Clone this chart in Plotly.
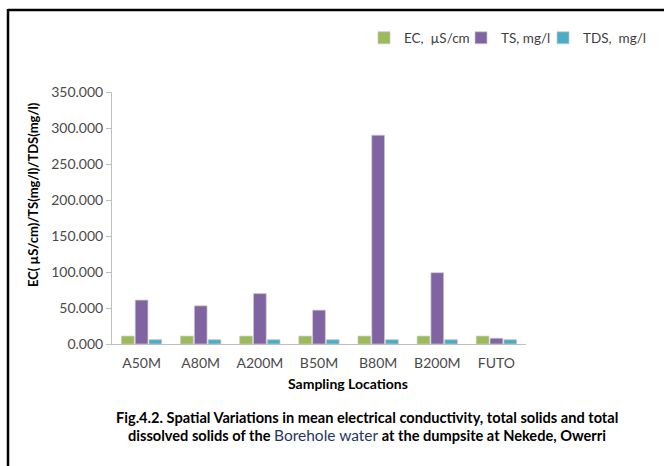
import plotly.graph_objects as go

locations = ["A50M", "A80M", "A200M", "B50M", "B80M", "B200M", "FUTO"]
ec_values = [11.0, 11.0, 11.0, 11.0, 11.0, 11.0, 11.0]
ts_values = [61.0, 53.0, 70.0, 47.0, 290.0, 99.0, 8.0]
tds_values = [6.0, 6.0, 6.0, 6.0, 6.0, 6.0, 6.0]
series_names = ["EC,  µS/cm", "TS, mg/l", "TDS,  mg/l"]
colors = ["#9BBB59", "#8064A2", "#4BACC6"]

W, H = 664, 466
ML, MR, MT, MB = 112, 138, 92, 122
PW, PH = W - ML - MR, H - MT - MB

def px(x):
    return (x - ML) / PW

def py(y):
    return (H - MB - y) / PH

FONT = "Lato, Open Sans, sans-serif"
legend_ids = ["legend", "legend2", "legend3"]
legend_x = [364, 461, 543]

fig = go.Figure()
for name, vals, col, lid in zip(series_names, [ec_values, ts_values, tds_values], colors, legend_ids):
    fig.add_trace(go.Bar(
        x=locations, y=vals, name=name, legend=lid,
        marker=dict(color=col, line=dict(color="rgba(200,200,200,0.7)", width=1)),
    ))

fig.update_layout(
    width=W, height=H,
    margin=dict(l=ML, r=MR, t=MT, b=MB, autoexpand=False),
    paper_bgcolor="white", plot_bgcolor="white",
    barmode="group", bargap=0.3, bargroupgap=0.08,
    font=dict(family=FONT, size=13, color="#404040"),
    showlegend=True,
    xaxis=dict(showline=True, linecolor="#BFBFBF", linewidth=1, ticks="outside",
               ticklen=6, tickcolor="rgba(0,0,0,0)",
               tickfont=dict(size=14, color="#4a4a4a"), showgrid=False),
    yaxis=dict(range=[0, 350], dtick=50, tickformat=".3f", showline=True,
               linecolor="#BFBFBF", linewidth=1, ticks="outside", ticklen=5,
               tickcolor="#BFBFBF", showgrid=False, zeroline=False,
               tickfont=dict(size=14, color="#4a4a4a")),
)
for lid, lx in zip(legend_ids, legend_x):
    fig.update_layout({lid: dict(orientation="h", x=px(lx), y=py(38), xanchor="left",
                                 yanchor="middle", font=dict(size=13.5, color="#404040"),
                                 itemwidth=30, bgcolor="rgba(0,0,0,0)")})

def note(text, x, y, size, angle=0):
    fig.add_annotation(text=text, textangle=angle, xref="paper", yref="paper",
                       x=px(x), y=py(y), xanchor="center", yanchor="middle",
                       showarrow=False, font=dict(size=size, color="#000000"))

note("<b>EC( µS/cm)/TS(mg/l)/TDS(mg/l)</b>", 33, 195, 13, angle=-90)
note("<b>Sampling Locations</b>", 348, 383, 14)
note("<b>Fig.4.2. Spatial Variations in mean electrical conductivity, total solids and total</b>",
     367, 417, 14.6)
note("<b>dissolved solids of the </b><span style='color:#1F3864;font-size:15.5px'>Borehole water</span>"
     "<b> at the dumpsite at Nekede, Owerri</b>", 367, 435, 14.6)

# frame lines
fig.add_shape(type="line", xref="paper", yref="paper", x0=px(8), x1=px(664), y0=py(10), y1=py(10),
              line=dict(color="black", width=2.5))
fig.add_shape(type="line", xref="paper", yref="paper", x0=px(8), x1=px(8), y0=py(9), y1=py(466),
              line=dict(color="black", width=2.5))

fig.write_html("out.html")
